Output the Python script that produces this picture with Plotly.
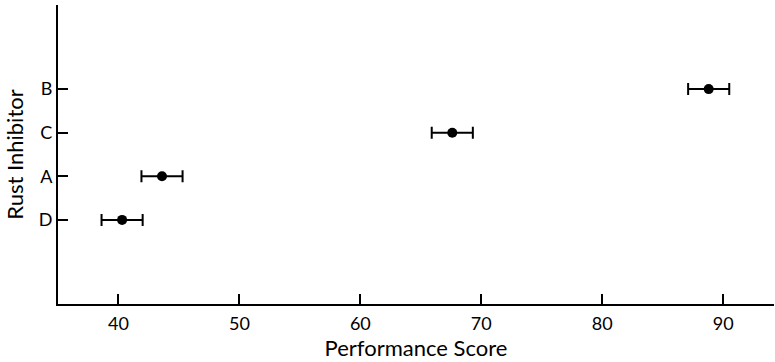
import plotly.graph_objects as go

inhibitors = ["D", "A", "C", "B"]
scores = [40.3, 43.6, 67.6, 88.8]
half_width = [1.7, 1.7, 1.7, 1.7]

fig = go.Figure()
fig.add_trace(go.Scatter(
    x=scores, y=inhibitors, mode="markers",
    marker=dict(color="black", size=10),
    error_x=dict(type="data", array=half_width, color="black", thickness=2, width=6),
    showlegend=False,
))

font = dict(family="Lato, Open Sans, sans-serif", size=18, color="black")
fig.update_layout(
    width=775, height=362,
    margin=dict(l=58, r=1, t=5, b=58),
    plot_bgcolor="white", paper_bgcolor="white",
    font=font,
)
fig.update_xaxes(
    range=[35, 94.2], tickvals=[40, 50, 60, 70, 80, 90],
    ticks="inside", ticklen=10, tickwidth=1.5, tickcolor="black",
    ticklabelstandoff=2,
    showline=True, linecolor="black", linewidth=2,
    showgrid=False, zeroline=False, automargin=False,
    title=dict(text="Performance Score", standoff=3),
)
fig.update_yaxes(
    type="category", categoryorder="array", categoryarray=inhibitors,
    range=[-1.93, 4.93],
    ticks="inside", ticklen=10, tickwidth=1.5, tickcolor="black",
    showline=True, linecolor="black", linewidth=2,
    showgrid=False, zeroline=False, automargin=False,
    title=dict(text="Rust Inhibitor", standoff=9),
)

# page body has a default 8px margin; drop it so the figure fills the window
fig.write_html("out.html", config={"displayModeBar": False},
               post_script="document.body.style.margin='0';")
